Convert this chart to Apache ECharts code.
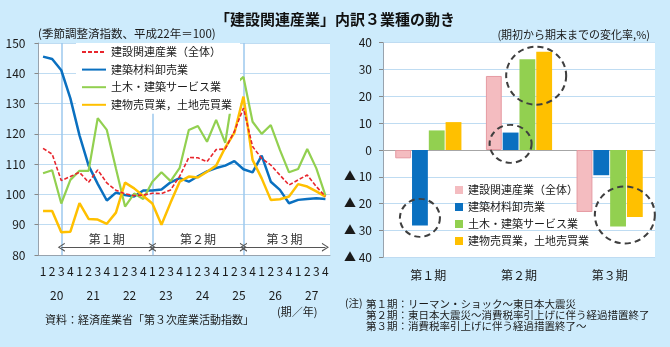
<!DOCTYPE html>
<html>
<head>
<meta charset="utf-8">
<script src="https://cdn.jsdelivr.net/npm/echarts@6/dist/echarts.min.js"></script>
<style>
  html, body { margin: 0; padding: 0; background: #cdebfc; }
  #chart { width: 670px; height: 347px; }
</style>
</head>
<body>
<div id="chart"></div>
<script>
// Quarterly index, fiscal years 平成20–27 (seasonally adjusted, 平成22年 = 100)
const years = ['20', '21', '22', '23', '24', '25', '26', '27'];
const quarters = ['1', '2', '3', '4'];

const seriesNames = [
  '建設関連産業（全体）',
  '建築材料卸売業',
  '土木・建築サービス業',
  '建物売買業，土地売買業'
];

const idxTotal = [
  115.2, 113.3, 104.6, 105.9, 107.3, 104.0, 108.1, 103.8,
  101.4, 100.2, 99.6, 99.8, 100.4, 100.3, 101.5, 106.0,
  112.2, 112.1, 110.8, 114.8, 115.0, 120.8, 128.5, 115.8,
  111.9, 109.7, 106.4, 103.1, 104.8, 106.4, 102.6, 99.3
];
const idxMaterials = [
  145.5, 144.7, 141.0, 131.7, 119.5, 109.5, 103.5, 98.0,
  100.6, 99.8, 99.3, 101.3, 101.3, 101.6, 104.0, 105.4,
  104.2, 106.0, 107.6, 108.7, 109.5, 111.0, 108.3, 107.3,
  112.8, 104.2, 101.5, 97.1, 98.2, 98.5, 98.7, 98.5
];
const idxCivil = [
  107.0, 108.0, 97.0, 104.8, 107.8, 107.8, 125.2, 121.3,
  108.6, 96.0, 100.3, 98.5, 104.2, 107.3, 104.4, 108.8,
  121.3, 122.6, 117.4, 124.6, 117.0, 136.2, 138.8, 124.0,
  120.0, 122.9, 114.7, 107.3, 108.4, 115.0, 108.6, 99.6
];
const idxRealEstate = [
  94.5, 94.5, 87.5, 87.7, 97.1, 91.9, 91.7, 90.3,
  94.0, 103.9, 102.0, 99.5, 97.0, 90.0, 97.3, 104.2,
  105.9, 105.6, 107.5, 109.5, 115.5, 120.3, 132.3, 111.4,
  105.3, 98.2, 98.4, 99.3, 103.4, 102.6, 101.0, 99.3
];

// Change from start to end of each period (%)
const periods = ['第１期', '第２期', '第３期'];
const chgTotal = [-3.1, 27.6, -23.1];
const chgMaterials = [-28.1, 6.5, -9.4];
const chgCivil = [7.3, 33.8, -28.5];
const chgRealEstate = [10.4, 36.6, -25.0];

// Category keys "year-quarter"; only the quarter digit is shown
const quarterKeys = years.flatMap(y => quarters.map(q => y + '-' + q));
// Period boundaries on the quarterly axis
const boundaryKeys = ['20-3', '23-1', '25-3', '27-4'];

const FONT = '"Noto Sans CJK JP", "Noto Sans", sans-serif';
const TXT = '#1a1a1a';
const GRID_LINE = '#bfdcf2';
const AXIS_LINE = '#98a3ae';

const lineColors = ['#e8262d', '#0a70c0', '#92d050', '#ffc000'];
const barColors = ['#f4bcc0', '#0a70c0', '#92d050', '#ffc000'];

const chart = echarts.init(document.getElementById('chart'), null, { renderer: 'canvas' });

// Open chevron arrow head, pointing up (markLine rotates it along the line)
const CHEVRON = 'path://M0,10 L5,0 L10,10 L8.6,10 L5,2.6 L1.4,10 Z';

const option = {
  backgroundColor: '#cdebfc',
  textStyle: { fontFamily: FONT },
  animation: false,
  title: [
    {
      text: '「建設関連産業」内訳３業種の動き',
      left: 'center', top: 12, padding: 0,
      textStyle: { fontSize: 15, fontWeight: 'bold', color: '#111', fontFamily: FONT }
    },
    {
      text: '(季節調整済指数、平成22年＝100)',
      left: 38, top: 28, padding: 0,
      textStyle: { fontSize: 11.5, fontWeight: 'normal', color: TXT, fontFamily: FONT }
    },
    {
      text: '(期初から期末までの変化率,%)',
      right: 20, top: 29, padding: 0,
      textStyle: { fontSize: 11, fontWeight: 'normal', color: TXT, fontFamily: FONT }
    }
  ],
  grid: [
    { left: 38.5, top: 43, width: 291.5, height: 212, show: true, backgroundColor: '#fff', borderWidth: 0 },
    { left: 383, top: 42.7, width: 272, height: 214.6, show: true, backgroundColor: '#fff', borderWidth: 0 }
  ],
  legend: [
    {
      data: seriesNames,
      orient: 'vertical',
      left: 76, top: 43,
      padding: [2, 8, 2, 5],
      itemWidth: 24, itemHeight: 10, itemGap: 3.6,
      itemStyle: { opacity: 0 },
      backgroundColor: '#fff',
      selectedMode: false,
      textStyle: { fontSize: 11, lineHeight: 14, color: TXT, fontFamily: FONT }
    },
    {
      data: seriesNames.map((n, i) => ({
        name: n,
        icon: 'rect',
        itemStyle: { color: barColors[i], borderWidth: 0, opacity: 1 }
      })),
      orient: 'vertical',
      left: 455, top: 183.5,
      padding: 0,
      itemWidth: 8, itemHeight: 8, itemGap: 4,
      selectedMode: false,
      textStyle: { fontSize: 11, lineHeight: 13, color: TXT, fontFamily: FONT }
    }
  ],
  xAxis: [
    {
      gridIndex: 0, type: 'category', data: quarterKeys, boundaryGap: true,
      axisLine: { lineStyle: { color: AXIS_LINE, width: 1 } },
      axisTick: { interval: 0, length: 23, lineStyle: { color: AXIS_LINE } },
      axisLabel: {
        interval: 0, margin: 10, fontSize: 12, color: TXT, fontFamily: FONT,
        formatter: v => v.split('-')[1]
      },
      splitLine: { show: false }
    },
    {
      gridIndex: 0, type: 'category', data: years, position: 'bottom', boundaryGap: true,
      axisLine: { show: false },
      axisTick: { interval: 0, length: 50, lineStyle: { color: AXIS_LINE } },
      axisLabel: { interval: 0, margin: 34, fontSize: 12, color: TXT, fontFamily: FONT },
      splitLine: { show: false }
    },
    {
      gridIndex: 1, type: 'category', data: periods,
      axisLine: { onZero: true, lineStyle: { color: '#a6a6a6', width: 1 } },
      axisTick: { length: 4, lineStyle: { color: '#a6a6a6' } },
      axisLabel: { show: false },
      splitLine: { show: false }
    },
    {
      gridIndex: 1, type: 'category', data: periods, position: 'bottom',
      axisLine: { onZero: false, show: false },
      axisTick: { show: false },
      axisLabel: { margin: 12, fontSize: 12, color: TXT, fontFamily: FONT },
      splitLine: { show: false }
    }
  ],
  yAxis: [
    {
      gridIndex: 0, type: 'value', min: 80, max: 150, interval: 10,
      axisLine: { show: true, lineStyle: { color: AXIS_LINE } },
      axisTick: { show: true, length: 4, lineStyle: { color: '#888' } },
      axisLabel: { margin: 13, fontSize: 12, color: TXT, fontFamily: FONT },
      splitLine: { lineStyle: { color: GRID_LINE, width: 1 } }
    },
    {
      gridIndex: 1, type: 'value', min: -40, max: 40, interval: 10,
      axisLine: { show: true, lineStyle: { color: AXIS_LINE } },
      axisTick: { show: true, length: 4, lineStyle: { color: '#888' } },
      axisLabel: {
        margin: 11, fontSize: 12, color: TXT, fontFamily: FONT,
        formatter: v => (v < 0 ? '▲ ' + (-v) : String(v))
      },
      splitLine: { lineStyle: { color: GRID_LINE, width: 1 } }
    }
  ],
  series: [
    {
      name: seriesNames[0], type: 'line', xAxisIndex: 0, yAxisIndex: 0,
      data: idxTotal, symbol: 'none', z: 5,
      itemStyle: { color: lineColors[0] },
      lineStyle: { color: lineColors[0], width: 1.6, type: [4, 2] }
    },
    {
      name: seriesNames[1], type: 'line', xAxisIndex: 0, yAxisIndex: 0,
      data: idxMaterials, symbol: 'none', z: 3,
      itemStyle: { color: lineColors[1] },
      lineStyle: { color: lineColors[1], width: 2.5 },
      markLine: {
        silent: true, symbol: 'none', z: 1,
        label: { show: false },
        lineStyle: { color: '#9dc8ee', width: 1.5, type: 'solid' },
        data: boundaryKeys.slice(0, 3).map(k => ({ xAxis: k }))
      }
    },
    {
      name: seriesNames[2], type: 'line', xAxisIndex: 0, yAxisIndex: 0,
      data: idxCivil, symbol: 'none', z: 3,
      itemStyle: { color: lineColors[2] },
      lineStyle: { color: lineColors[2], width: 2.2 },
      markLine: {
        silent: true,
        symbol: [CHEVRON, CHEVRON],
        symbolSize: [9, 7],
        itemStyle: { color: '#555' },
        lineStyle: { color: '#555', width: 1, type: 'solid' },
        label: {
          show: true, position: 'insideMiddleTop', distance: 2,
          formatter: '{b}', fontSize: 12, color: '#333', fontFamily: FONT
        },
        data: periods.map((p, i) => [
          { name: p, coord: [boundaryKeys[i], 82.6] },
          { coord: [boundaryKeys[i + 1], 82.6] }
        ])
      }
    },
    {
      name: seriesNames[3], type: 'line', xAxisIndex: 0, yAxisIndex: 0,
      data: idxRealEstate, symbol: 'none', z: 4,
      itemStyle: { color: lineColors[3] },
      lineStyle: { color: lineColors[3], width: 2.5 }
    },
    {
      name: seriesNames[0], type: 'bar', xAxisIndex: 2, yAxisIndex: 1,
      data: chgTotal, barCategoryGap: '27%', barGap: '6%',
      itemStyle: { color: barColors[0], borderColor: '#e59aa2', borderWidth: 1 }
    },
    {
      name: seriesNames[1], type: 'bar', xAxisIndex: 2, yAxisIndex: 1,
      data: chgMaterials, barCategoryGap: '27%', barGap: '6%',
      itemStyle: { color: barColors[1] },
      markPoint: {
        silent: true, symbol: 'circle',
        label: { show: false },
        itemStyle: { color: 'none', borderColor: '#3f3f3f', borderWidth: 2, borderType: [6, 4] },
        data: [
          { coord: [periods[0], -25.3], symbolSize: [40, 38] },
          { coord: [periods[1], 2.3], symbolSize: [42, 38] }
        ]
      }
    },
    {
      name: seriesNames[2], type: 'bar', xAxisIndex: 2, yAxisIndex: 1,
      data: chgCivil, barCategoryGap: '27%', barGap: '6%',
      itemStyle: { color: barColors[2] }
    },
    {
      name: seriesNames[3], type: 'bar', xAxisIndex: 2, yAxisIndex: 1,
      data: chgRealEstate, barCategoryGap: '27%', barGap: '6%',
      itemStyle: { color: barColors[3] },
      markPoint: {
        silent: true, symbol: 'circle',
        label: { show: false },
        itemStyle: { color: 'none', borderColor: '#3f3f3f', borderWidth: 2, borderType: [6, 4] },
        data: [
          { coord: [periods[1], 27.7], symbolSize: [60, 58], symbolOffset: [-8, 0] },
          { coord: [periods[2], -24.2], symbolSize: [60, 57], symbolOffset: [-10, 0] }
        ]
      }
    }
  ],
  graphic: [
    {
      type: 'text', left: 45, top: 314,
      style: { text: '資料：経済産業省「第３次産業活動指数」', fontSize: 11, fill: TXT, fontFamily: FONT }
    },
    {
      type: 'text', left: 277, top: 306,
      style: { text: '(期／年)', fontSize: 11, fill: TXT, fontFamily: FONT }
    },
    {
      type: 'text', left: 345, top: 298,
      style: { text: '(注)', fontSize: 10.5, fill: TXT, fontFamily: FONT }
    },
    {
      type: 'text', left: 366, top: 298,
      style: {
        text: '第１期：リーマン・ショック～東日本大震災\n第２期：東日本大震災～消費税率引上げに伴う経過措置終了\n第３期：消費税率引上げに伴う経過措置終了～',
        fontSize: 10.5, lineHeight: 11.4, fill: TXT, fontFamily: FONT
      }
    }
  ]
};

chart.setOption(option);
</script>
</body>
</html>
